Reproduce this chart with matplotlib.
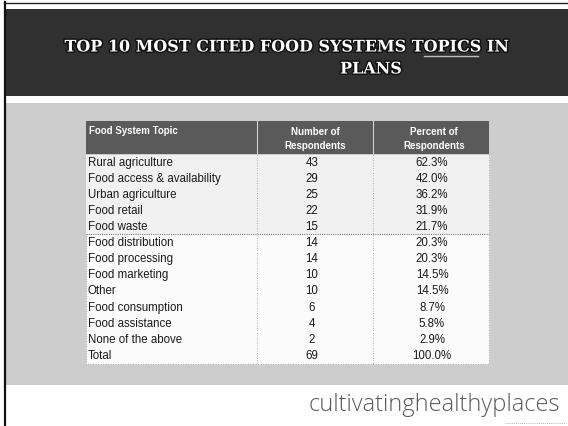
import matplotlib
matplotlib.use("Agg")
import matplotlib.pyplot as plt
import matplotlib.patheffects as pe
from matplotlib.patches import Rectangle

# ---- data ----
title_line1 = "TOP 10 MOST CITED FOOD SYSTEMS TOPICS IN"
title_line2 = "PLANS"
col_headers = ["Food System Topic", "Number of\nRespondents", "Percent of\nRespondents"]
topics = ["Rural agriculture", "Food access & availability", "Urban agriculture",
          "Food retail", "Food waste", "Food distribution", "Food processing",
          "Food marketing", "Other", "Food consumption", "Food assistance",
          "None of the above", "Total"]
counts = [43, 29, 25, 22, 15, 14, 14, 10, 10, 6, 4, 2, 69]
percents = ["62.3%", "42.0%", "36.2%", "31.9%", "21.7%", "20.3%", "20.3%",
            "14.5%", "14.5%", "8.7%", "5.8%", "2.9%", "100.0%"]
footer = "cultivatinghealthyplaces"

W, H = 568, 427
fig = plt.figure(figsize=(W / 100, H / 100), dpi=100)
ax = fig.add_axes([0, 0, 1, 1])
ax.set_xlim(0, W)
ax.set_ylim(H, 0)
ax.axis("off")
fig.patch.set_facecolor("white")

# page border
ax.plot([4.5, 4.5], [3, H], color="#111111", lw=1.6)
ax.plot([4, W], [4, 4], color="#222222", lw=1.0)

# header band
ax.add_patch(Rectangle((5, 10), W - 5, 87, facecolor="#303030", edgecolor="none"))
# gray content area
ax.add_patch(Rectangle((5, 104), W - 5, 282, facecolor="#cdcdcd", edgecolor="none"))

# title
stroke = [pe.withStroke(linewidth=2.2, foreground="#111111")]
ax.text(287, 48, title_line1, color="white", fontsize=11.5, fontweight="bold",
        family="DejaVu Serif", ha="center", va="center", path_effects=stroke)
ax.text(371, 70, title_line2, color="white", fontsize=11.5, fontweight="bold",
        family="DejaVu Serif", ha="center", va="center", path_effects=stroke)
ax.plot([424, 478], [57, 57], color="#bbbbbb", lw=1.0)

# table geometry
x0, x1, x2, x3 = 86, 257, 373, 489
hdr_top, hdr_bot = 122, 155
row_h = 16.1
first_row_c = 162.7
n = len(topics)
tbl_bot = first_row_c + (n - 0.5) * row_h + 1

# header
ax.add_patch(Rectangle((x0, hdr_top), x3 - x0, hdr_bot - hdr_top,
                       facecolor="#5a5a5a", edgecolor="none"))
for xs in (x1, x2):
    ax.plot([xs, xs], [hdr_top, hdr_bot], color="#d0d0d0", lw=0.8)
hkw = dict(color="white", fontsize=7, fontweight="bold", family="Liberation Sans",
           va="center")
ax.text(x0 + 3, 131, col_headers[0], ha="left", **hkw)
ax.text((x1 + x2) / 2, 139, col_headers[1], ha="center", linespacing=1.5, **hkw)
ax.text((x2 + x3) / 2 + 3, 139, col_headers[2], ha="center", linespacing=1.5, **hkw)

# body
body_top = hdr_bot + 1
ax.add_patch(Rectangle((x0, body_top), x3 - x0, tbl_bot - body_top,
                       facecolor="#fbfbfb", edgecolor="#9a9a9a", lw=0.6, ls=(0, (1, 2))))
ax.add_patch(Rectangle((x0, body_top), x3 - x0, first_row_c + 4.5 * row_h - body_top,
                       facecolor="#f1f1f1", edgecolor="none"))
ax.plot([x0, x3], [first_row_c + 4.5 * row_h] * 2, color="#777777", lw=0.8,
        ls=(0, (1, 1)))
for xs in (x1, x2):
    ax.plot([xs, xs], [body_top, tbl_bot], color="#999999", lw=0.6, ls=(0, (1, 2)))

tkw = dict(color="#1a1a1a", fontsize=8.3, family="Liberation Sans", va="center")
for i, (t, c, p) in enumerate(zip(topics, counts, percents)):
    y = first_row_c + i * row_h
    ax.text(x0 + 2, y, t, ha="left", **tkw)
    ax.text(312, y, str(c), ha="center", **tkw)
    ax.text(432, y, p, ha="center", **tkw)

# footer
ax.text(560, 405, footer, color="#5a5a5a", fontsize=17, family="Open Sans",
        fontweight="light", ha="right", va="center")
ax.plot([505, 566], [424, 424], color="#999999", lw=0.6, ls=(0, (1, 1.5)))

fig.savefig("out.png", dpi=100, facecolor="white")
